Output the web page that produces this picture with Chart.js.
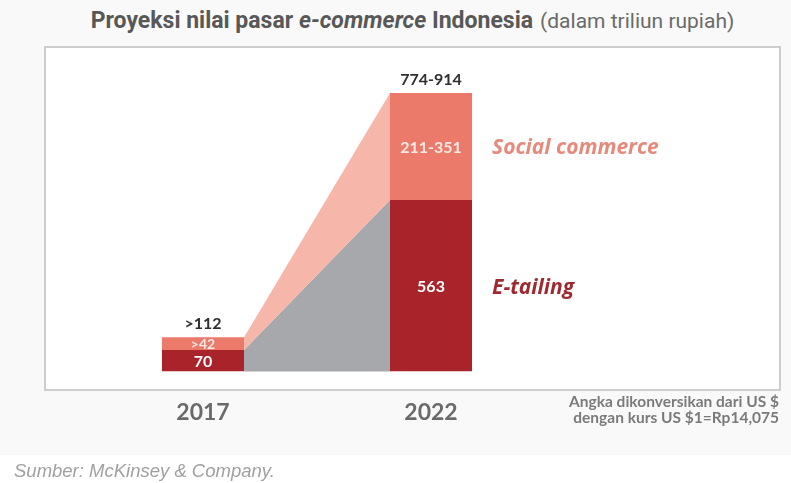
<!DOCTYPE html>
<html>
<head>
<meta charset="utf-8">
<script src="https://cdn.jsdelivr.net/npm/chart.js@4/dist/chart.umd.min.js"></script>
<style>
  html, body { margin: 0; padding: 0; background: #fff; }
  #page { position: relative; width: 791px; height: 483px; overflow: hidden; }
  #panel { position: absolute; left: 0; top: 0; width: 791px; height: 455px; background: #f9f9f9; }
  #frame { position: absolute; left: 44px; top: 46px; width: 733px; height: 341px;
           border: 2px solid #cdcdcd; background: #fff; }
  #title { position: absolute; left: 17px; top: 7px; width: 791px; text-align: center;
           font-family: Roboto, sans-serif; color: #585858; white-space: nowrap; }
  #title b { font-weight: 700; font-size: 23px; }
  #title span { font-weight: 400; font-size: 21px; color: #6a6a6a; margin-left: 7px; }
  #note { position: absolute; right: 12px; top: 393px; text-align: right;
          font-family: Lato, sans-serif; font-weight: 700; font-size: 15.5px;
          line-height: 16px; color: #7a7a7a; }
  #source { position: absolute; left: 14px; top: 460px; font-family: "Liberation Sans", Arial, sans-serif;
            font-style: italic; font-size: 18.5px; color: #a0a0a0; }
  #chart { position: absolute; left: 0; top: 0; }
</style>
</head>
<body>
<div id="page">
  <div id="panel"></div>
  <div id="frame"></div>
  <div id="title"><b>Proyeksi nilai pasar <i>e-commerce</i> Indonesia</b><span>(dalam triliun rupiah)</span></div>
  <canvas id="chart" width="791" height="483"></canvas>
  <div id="note">Angka dikonversikan dari US $<br>dengan kurs US $1=Rp14,075</div>
  <div id="source">Sumber: McKinsey &amp; Company.</div>
</div>
<script>
const years = ['2017', '2022'];
const seriesNames = ['E-tailing', 'Social commerce'];
const eTailing = [70, 563];
const socialCommerce = [42, 351];
const eTailingLabels = ['70', '563'];
const socialLabels = ['>42', '211-351'];
const totalLabels = ['>112', '774-914'];
const yMax = 914;

const colors = {
  eTailing: '#a8232a',
  social: '#ec7a6b',
  socialBand: '#f7b6aa',
  eTailingBand: '#a7a8ac',
  eTailingName: '#9e2a2f',
  socialName: '#e58a7c'
};

// shaded bands joining the two stacked bars
const bandPlugin = {
  id: 'bands',
  beforeDatasetsDraw(chart) {
    const ctx = chart.ctx;
    const fills = [colors.eTailingBand, colors.socialBand];
    [0, 1].forEach(i => {
      const bars = chart.getDatasetMeta(i).data;
      const a = bars[0], b = bars[1];
      const ax = a.x + a.width / 2, bx = b.x - b.width / 2;
      ctx.save();
      ctx.fillStyle = fills[i];
      ctx.beginPath();
      ctx.moveTo(ax, a.y);
      ctx.lineTo(bx, b.y);
      ctx.lineTo(bx, b.base);
      ctx.lineTo(ax, a.base);
      ctx.closePath();
      ctx.fill();
      ctx.restore();
    });
  }
};

// value labels inside the bars, totals on top, series names on the right
const labelPlugin = {
  id: 'labels',
  afterDatasetsDraw(chart) {
    const ctx = chart.ctx;
    const etail = chart.getDatasetMeta(0).data;
    const social = chart.getDatasetMeta(1).data;
    ctx.save();
    ctx.textAlign = 'center';
    ctx.textBaseline = 'middle';
    etail.forEach((bar, i) => {
      ctx.font = '700 16px Lato, sans-serif';
      ctx.fillStyle = '#ffffff';
      ctx.fillText(eTailingLabels[i], bar.x, (bar.y + bar.base) / 2 + 1);
    });
    social.forEach((bar, i) => {
      ctx.font = (i === 0 ? '700 14px' : '700 16px') + ' Lato, sans-serif';
      ctx.fillStyle = '#fbe9e5';
      ctx.fillText(socialLabels[i], bar.x, (bar.y + bar.base) / 2 + 1);
      ctx.font = '700 16px Lato, sans-serif';
      ctx.fillStyle = '#2f2f2f';
      ctx.fillText(totalLabels[i], bar.x, bar.y - 13);
    });
    const last = etail.length - 1;
    const nameX = etail[last].x + etail[last].width / 2 + 20;
    ctx.textAlign = 'left';
    ctx.font = 'italic 700 21px "Open Sans", sans-serif';
    ctx.fillStyle = colors.socialName;
    ctx.fillText(seriesNames[1], nameX, (social[last].y + social[last].base) / 2 + 2);
    ctx.fillStyle = colors.eTailingName;
    ctx.fillText(seriesNames[0], nameX, (etail[last].y + etail[last].base) / 2 + 2);
    ctx.restore();
  }
};

new Chart(document.getElementById('chart'), {
  type: 'bar',
  data: {
    labels: years,
    datasets: [
      { label: seriesNames[0], data: eTailing, backgroundColor: colors.eTailing },
      { label: seriesNames[1], data: socialCommerce, backgroundColor: colors.social }
    ]
  },
  options: {
    responsive: false,
    animation: false,
    events: [],
    datasets: { bar: { barPercentage: 1, categoryPercentage: 0.36, borderWidth: 0 } },
    layout: { padding: { left: 89, right: 246, top: 93, bottom: 38 } },
    plugins: { legend: { display: false }, tooltip: { enabled: false } },
    scales: {
      x: {
        stacked: true,
        grid: { display: false },
        border: { display: false },
        ticks: { padding: 19, color: '#6a6a6a', font: { family: 'Lato', weight: '700', size: 23 } }
      },
      y: { stacked: true, display: false, min: 0, max: yMax }
    }
  },
  plugins: [bandPlugin, labelPlugin]
});
</script>
</body>
</html>
